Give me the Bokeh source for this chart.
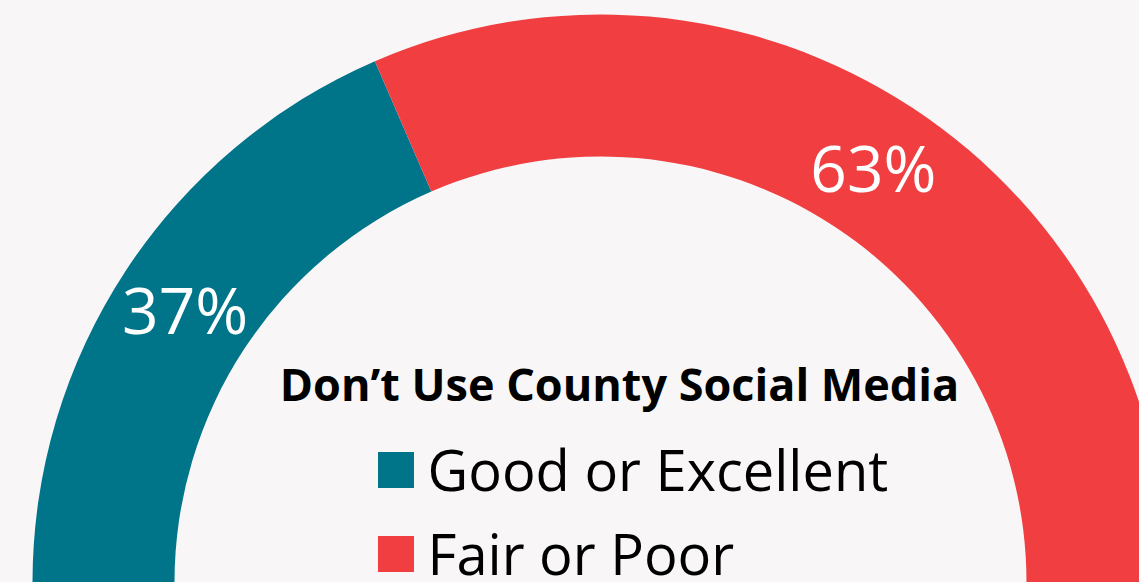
import numpy as np
from bokeh.plotting import figure
from bokeh.models import ColumnDataSource, Range1d, Legend, LegendItem
from bokeh.core.properties import value
from bokeh.embed import file_html
from bokeh.resources import INLINE

# ---- data ----
categories = ["Good or Excellent", "Fair or Poor"]
percents = [37, 63]
colors = ["#007589", "#F03E41"]
title_text = "Don\u2019t Use County Social Media"

BG = "#F8F6F7"
W, H = 1139, 582
CX, CY = 600, 0
R_IN, R_OUT = 426, 568

vals = np.array(percents, dtype=float)
frac = vals / vals.sum()
# start at the left (pi) and sweep clockwise to the right (0)
ends = np.pi - np.concatenate([[0], np.cumsum(frac)[:-1]]) * np.pi
starts = ends - frac * np.pi
mids = (starts + ends) / 2
r_mid = (R_IN + R_OUT) / 2

src = ColumnDataSource(dict(
    cat=categories, start=starts, end=ends, color=colors,
    lx=CX + r_mid * np.cos(mids), ly=CY + r_mid * np.sin(mids),
    lab=[f"{int(v)}%" for v in percents],
))

p = figure(width=W, height=H, output_backend="svg", toolbar_location=None,
           x_range=Range1d(0, W), y_range=Range1d(0, H), min_border=0,
           background_fill_color=BG, border_fill_color=BG, outline_line_color=None)
p.axis.visible = False
p.grid.visible = False

wedges = p.annular_wedge(x=CX, y=CY, inner_radius=R_IN, outer_radius=R_OUT,
                         start_angle="start", end_angle="end", direction="anticlock",
                         fill_color="color", line_color=None, source=src)

p.text(x="lx", y="ly", text="lab", source=src, text_color="white",
       text_font=value("Open Sans"), text_font_size="64px",
       text_align="center", text_baseline="middle")

p.text(x=[619], y=[199], text=[title_text], text_color="black",
       text_font=value("Open Sans"), text_font_size="45px", text_font_style="bold",
       text_align="center", text_baseline="alphabetic")

legend = Legend(items=[LegendItem(label=c, renderers=[wedges], index=i) for i, c in enumerate(categories)],
                location=(372.5, -9), orientation="vertical",
                glyph_width=45, glyph_height=45, label_standoff=10, spacing=8,
                padding=0, margin=0, border_line_color=None, background_fill_alpha=0,
                label_text_font="Open Sans", label_text_font_size="56px", label_text_color="black")
p.add_layout(legend, "center")

TEMPLATE = """{% block preamble %}<style>html, body { margin: 0 !important; padding: 0; background: #F8F6F7; overflow: hidden; }</style>{% endblock %}"""

open("out.html", "w").write(file_html(p, INLINE, template=TEMPLATE))
